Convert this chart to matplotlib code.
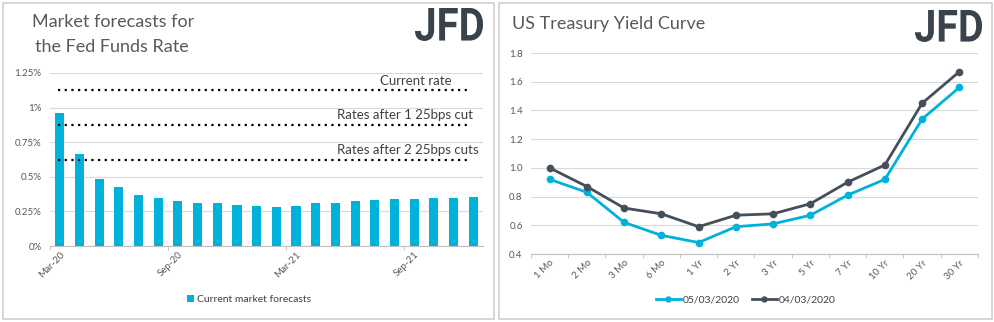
import numpy as np
import matplotlib
matplotlib.use("Agg")
import matplotlib.pyplot as plt
from matplotlib.patches import Rectangle, PathPatch
from matplotlib.textpath import TextPath
from matplotlib.font_manager import FontProperties
from matplotlib.transforms import Affine2D

plt.rcParams['font.family'] = ['Lato', 'DejaVu Sans']

# market implied fed funds path, Mar-20 .. Dec-21
months = ['Mar-20', 'Apr-20', 'May-20', 'Jun-20', 'Jul-20', 'Aug-20', 'Sep-20',
          'Oct-20', 'Nov-20', 'Dec-20', 'Jan-21', 'Feb-21', 'Mar-21', 'Apr-21',
          'May-21', 'Jun-21', 'Jul-21', 'Aug-21', 'Sep-21', 'Oct-21', 'Nov-21', 'Dec-21']
forecasts = [0.96, 0.667, 0.486, 0.428, 0.367, 0.348, 0.326, 0.309, 0.309, 0.295, 0.289,
             0.282, 0.289, 0.309, 0.314, 0.326, 0.333, 0.340, 0.340, 0.348, 0.348, 0.355]
ref_levels = [1.125, 0.875, 0.625]
ref_labels = ['Current rate', 'Rates after 1 25bps cut', 'Rates after 2 25bps cuts']

# treasury curve
tenors = ['1 Mo', '2 Mo', '3 Mo', '6 Mo', '1 Yr', '2 Yr', '3 Yr', '5 Yr', '7 Yr', '10 Yr', '20 Yr', '30 Yr']
yld_0503 = [0.92, 0.83, 0.62, 0.53, 0.48, 0.59, 0.61, 0.67, 0.81, 0.92, 1.34, 1.56]
yld_0403 = [1.00, 0.87, 0.72, 0.68, 0.59, 0.67, 0.68, 0.75, 0.90, 1.02, 1.45, 1.67]

CYAN = '#00b2da'
DARK = '#454f5a'
GREY = '#595959'
GRID = '#d9d9d9'

W, H = 995, 322
fig = plt.figure(figsize=(W / 100, H / 100), dpi=100)

def px(x0, y0, x1, y1):
    # pixel box -> figure fraction [left, bottom, width, height]
    return [x0 / W, 1 - y1 / H, (x1 - x0) / W, (y1 - y0) / H]

# panel frames
for x0, x1 in [(3, 494), (499, 992)]:
    fig.patches.append(Rectangle((x0 / W, 1 - 319 / H), (x1 - x0) / W, 316 / H,
                                 transform=fig.transFigure, fill=False,
                                 edgecolor='#d0d0d0', linewidth=1.2))

def logo(x0, y0, x1, y1):
    # condensed bold "JFD" squeezed into a pixel box
    tp = TextPath((0, 0), 'JFD', size=100, prop=FontProperties(family='Roboto', weight='bold'))
    ext = tp.get_extents()
    sx = (x1 - x0) / ext.width
    sy = (y1 - y0) / ext.height
    tr = (Affine2D().translate(-ext.x0, -ext.y0).scale(sx, sy)
          .translate(x0, H - y1).scale(1 / W, 1 / H) + fig.transFigure)
    fig.patches.append(PathPatch(tp, transform=tr, facecolor='#3a424b', edgecolor='none'))

def style(ax):
    for s in ['top', 'right', 'left']:
        ax.spines[s].set_visible(False)
    ax.spines['bottom'].set_color('#bfbfbf')
    ax.grid(axis='y', color=GRID, linewidth=0.8)
    ax.set_axisbelow(True)
    ax.tick_params(axis='y', length=0, labelsize=7, labelcolor=GREY, pad=6)
    ax.tick_params(axis='x', which='major', length=0, labelsize=7, labelcolor=GREY, pad=3)
    ax.tick_params(axis='x', which='minor', length=3, color='#bfbfbf')

# ---- left: fed funds forecasts ----
ax1 = fig.add_axes(px(50, 73, 483, 246))
x = np.arange(len(months))
ax1.bar(x, forecasts, width=0.46, color=CYAN, label='Current market forecasts')
for lvl in ref_levels:
    ax1.hlines(lvl, -0.1, len(months) - 1.1, colors='black', linestyles=(0, (1, 2)), linewidth=1.6)
for lvl, txt, xr in zip(ref_levels, ref_labels, [19.93, 20.99, 21.3]):
    ax1.text(xr, lvl + 0.025, txt, ha='right', va='bottom', fontsize=9.5, color='#404040')
ax1.set_xlim(-0.5, len(months) - 0.5)
ax1.set_ylim(0, 1.25)
ax1.set_yticks([0, 0.25, 0.5, 0.75, 1.0, 1.25])
ax1.set_yticklabels(['0%', '0.25%', '0.5%', '0.75%', '1%', '1.25%'])
ax1.set_xticks(x[::6])
ax1.set_xticklabels(months[::6], rotation=45, ha='right', rotation_mode='anchor')
ax1.set_xticks(np.arange(-0.5, len(months), 6), minor=True)
style(ax1)
ax1.legend(loc='center', bbox_to_anchor=(0.46, -0.31), frameon=False, fontsize=7.5,
           handlelength=0.7, handleheight=0.7, handletextpad=0.3, labelcolor='#404040')

fig.text(32 / W, 1 - 22 / H, 'Market forecasts for', fontsize=13, color=GREY, va='center')
fig.text(35 / W, 1 - 47 / H, 'the Fed Funds Rate', fontsize=13, color=GREY, va='center')
logo(415, 8, 483, 41)

# ---- right: treasury yield curve ----
ax2 = fig.add_axes(px(531, 53, 978, 254))
t = np.arange(len(tenors))
ax2.plot(t, yld_0503, color=CYAN, linewidth=2, marker='o', markersize=4.5, label='05/03/2020')
ax2.plot(t, yld_0403, color=DARK, linewidth=2, marker='o', markersize=4.5, label='04/03/2020')
ax2.set_xlim(-0.5, len(tenors) - 0.5)
ax2.set_ylim(0.4, 1.8)
ax2.set_yticks(np.arange(0.4, 1.81, 0.2))
ax2.set_yticklabels([f'{v:.1f}' for v in np.arange(0.4, 1.81, 0.2)])
ax2.set_xticks(t)
ax2.set_xticklabels(tenors, rotation=45, ha='right', rotation_mode='anchor')
ax2.set_xticks(np.arange(-0.5, len(tenors), 1), minor=True)
style(ax2)
ax2.legend(loc='center', bbox_to_anchor=(0.48, -0.23), ncol=2, frameon=False, fontsize=7.5,
           handlelength=2.4, handletextpad=0.15, columnspacing=1.2, markerscale=0.8,
           labelcolor='#404040')

fig.text(512 / W, 1 - 24 / H, 'US Treasury Yield Curve', fontsize=13, color=GREY, va='center')
logo(915, 10, 982, 42)

fig.savefig('out.png', dpi=100)
